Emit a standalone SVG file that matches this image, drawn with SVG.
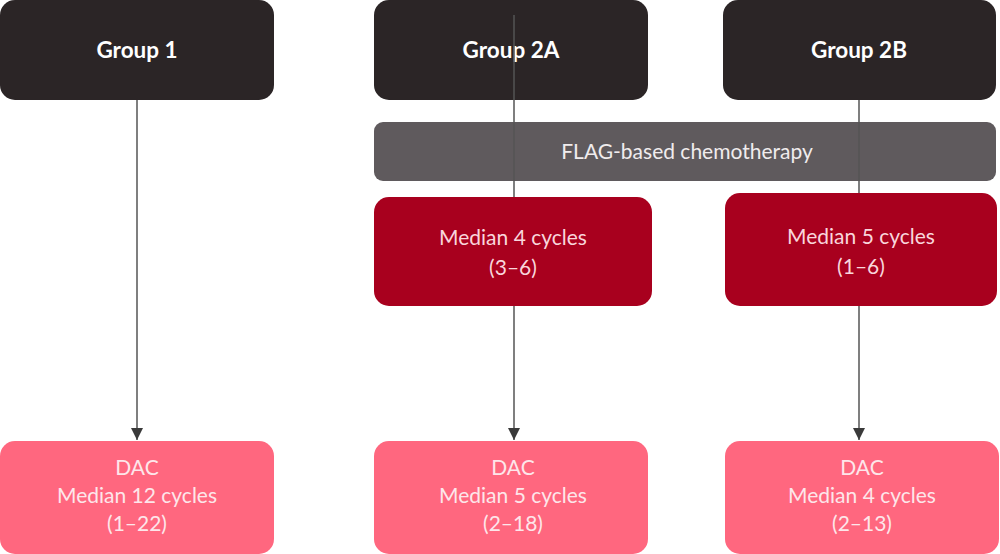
<svg xmlns="http://www.w3.org/2000/svg" width="1000" height="554" viewBox="0 0 1000 554">
<defs>
<marker id="arr" markerWidth="12" markerHeight="12" refX="12" refY="6" orient="auto" markerUnits="userSpaceOnUse">
<path d="M0,0 L12,6 L0,12 Z" fill="#3a3a3a"/>
</marker>
<style>
.grp{fill:#2b2526}
.flag{fill:#5f5a5d}
.red{fill:#a8001e}
.pink{fill:#ff677f}
.t{font-family:Lato,"Liberation Sans",sans-serif;font-size:21px;text-anchor:middle}
.tb{font-weight:bold;fill:#ffffff;font-size:22.5px}
.tf{fill:#f0eced}
.tr{fill:#f9d6dc}
.tp{fill:#fde6ea}
.ln{stroke:#555555;stroke-width:1.5;fill:none}
</style>
</defs>
<rect width="1000" height="554" fill="#ffffff"/>
<g id="group1"><rect class="grp" x="0" y="0" width="274" height="100" rx="15"/><text class="t tb" x="137" y="58">Group 1</text></g>
<g id="group2a"><rect class="grp" x="374" y="0" width="274" height="100" rx="15"/><text class="t tb" x="511" y="58">Group 2A</text></g>
<g id="group2b"><rect class="grp" x="723" y="0" width="273" height="100" rx="15"/><text class="t tb" x="859" y="58">Group 2B</text></g>
<g id="flag"><rect class="flag" x="374" y="122" width="622" height="59" rx="9"/><text class="t tf" x="687" y="159">FLAG-based chemotherapy</text></g>
<g id="connectors">
<line class="ln" x1="137" y1="100" x2="137" y2="440" marker-end="url(#arr)"/>
<line class="ln" x1="514" y1="15" x2="514" y2="440" marker-end="url(#arr)"/>
<line class="ln" x1="859" y1="100" x2="859" y2="440" marker-end="url(#arr)"/>
</g>
<g id="flag2a"><rect class="red" x="374" y="197" width="278" height="109" rx="15"/><text class="t tr" x="513" y="245">Median 4 cycles</text><text class="t tr" x="513" y="275">(3–6)</text></g>
<g id="flag2b"><rect class="red" x="725" y="193" width="272" height="113" rx="15"/><text class="t tr" x="861" y="244">Median 5 cycles</text><text class="t tr" x="861" y="274">(1–6)</text></g>
<g id="dac1"><rect class="pink" x="0" y="441" width="274" height="113" rx="15"/><text class="t tp" x="137" y="475">DAC</text><text class="t tp" x="137" y="503">Median 12 cycles</text><text class="t tp" x="137" y="531">(1–22)</text></g>
<g id="dac2a"><rect class="pink" x="374" y="441" width="274" height="113" rx="15"/><text class="t tp" x="513" y="475">DAC</text><text class="t tp" x="513" y="503">Median 5 cycles</text><text class="t tp" x="513" y="531">(2–18)</text></g>
<g id="dac2b"><rect class="pink" x="725" y="441" width="274" height="113" rx="15"/><text class="t tp" x="862" y="475">DAC</text><text class="t tp" x="862" y="503">Median 4 cycles</text><text class="t tp" x="862" y="531">(2–13)</text></g>
</svg>
